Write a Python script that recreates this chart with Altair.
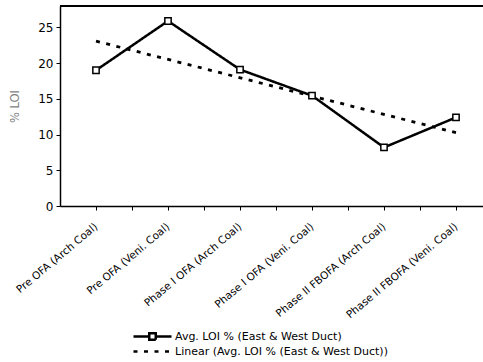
import json
import altair as alt
import pandas as pd

categories = [
    "Pre OFA (Arch Coal)",
    "Pre OFA (Veni. Coal)",
    "Phase I OFA (Arch Coal)",
    "Phase I OFA (Veni. Coal)",
    "Phase II FBOFA (Arch Coal)",
    "Phase II FBOFA (Veni. Coal)",
]
loi_values = [19.0, 25.9, 19.1, 15.45, 8.2, 12.4]
y_ticks = [0, 5, 10, 15, 20, 25]
y_max = 28

S1 = "Avg. LOI % (East & West Duct)"
S2 = "Linear (Avg. LOI % (East & West Duct))"
series_names = [S1, S2]

df = pd.DataFrame({
    "idx": list(range(1, len(categories) + 1)),
    "name": categories,
    "value": loi_values,
    "series": [S1] * len(categories),
})
legend_df = pd.DataFrame({"series": series_names, "idx": [1, 1], "value": [loi_values[0]] * 2})

FONT = "DejaVu Sans"
names_js = json.dumps(categories)

x_axis = alt.Axis(
    values=[1, 1.5, 2, 2.5, 3, 3.5, 4, 4.5, 5, 5.5, 6],
    labelExpr=f"datum.value % 1 == 0 ? {names_js}[datum.value - 1] : ''",
    labelAngle=-40,
    labelAlign="right",
    labelBaseline="middle",
    labelPadding=15,
    labelOverlap=False,
    labelFlush=False,
    labelBound=False,
    labelFont=FONT,
    labelFontSize=10.5,
    labelColor="black",
    tickSize=4,
    tickColor="black",
    tickWidth=1,
    domainColor="black",
    domainWidth=1.5,
    grid=False,
    title=None,
)
x_scale = alt.Scale(domain=[0.5, 6.375], nice=False, zero=False)
x_enc = alt.X("idx:Q", scale=x_scale, axis=x_axis)

y_axis = alt.Axis(
    values=y_ticks,
    tickSize=4,
    tickColor="black",
    tickWidth=1,
    domainColor="black",
    domainWidth=1.5,
    labelFont=FONT,
    labelFontSize=12,
    labelColor="black",
    labelPadding=3,
    labelOverlap=False,
    labelFlush=False,
    grid=False,
    title="% LOI",
    titleFont=FONT,
    titleFontSize=11.5,
    titleFontWeight="normal",
    titleColor="#7f7f7f",
    titlePadding=17,
)
y_scale = alt.Scale(domain=[0, y_max], nice=False)
y_enc = alt.Y("value:Q", scale=y_scale, axis=y_axis)

# legend symbols: unit = sqrt(symbolSize)/2 = 5 px
sq = 0.65
cx = -2.8
path_main = f"M-6.6,0H{cx - sq}M{cx + sq},0H1M{cx - sq},{-sq}H{cx + sq}V{sq}H{cx - sq}Z"
path_trend = "M-6.6,0H1"

legend_cfg = alt.Legend(
    title=None,
    orient="none",
    legendX=100,
    legendY=324,
    direction="vertical",
    padding=0,
    symbolSize=100,
    symbolStrokeWidth=2.5,
    symbolStrokeColor="black",
    symbolOpacity=1,
    labelFont=FONT,
    labelFontSize=11,
    labelColor="black",
    labelOffset=2,
    labelLimit=400,
    rowPadding=0,
)

dash_scale = alt.Scale(domain=series_names, range=[[1, 0], [4, 6.5]])

line = alt.Chart(df).mark_line(color="black", strokeWidth=2.5).encode(
    x=x_enc, y=y_enc, strokeDash=alt.StrokeDash("series:N", scale=dash_scale, legend=legend_cfg)
)

trend = (
    alt.Chart(df)
    .transform_regression("idx", "value", method="linear", extent=[1, 6])
    .transform_calculate(series=f"'{S2}'")
    .mark_line(color="black", strokeWidth=2.8)
    .encode(x=x_enc, y=y_enc, strokeDash=alt.StrokeDash("series:N", legend=legend_cfg))
)

points = alt.Chart(df).mark_point(
    shape="square", filled=True, fill="white", stroke="black", strokeWidth=1.5, size=40, opacity=1
).encode(x=x_enc, y=y_enc)

legend_layer = (
    alt.Chart(legend_df)
    .transform_filter("false")
    .mark_point(filled=False, color="black", strokeWidth=2.5, opacity=1)
    .encode(
        x=x_enc,
        y=y_enc,
        shape=alt.Shape(
            "series:N",
            scale=alt.Scale(domain=series_names, range=[path_main, path_trend]),
            legend=legend_cfg,
        ),
        strokeDash=alt.StrokeDash("series:N", legend=legend_cfg),
    )
)

top_border = alt.Chart(df).mark_rule(color="black", strokeWidth=1.5).encode(
    y=alt.YDatum(y_max, scale=y_scale, axis=y_axis)
)

chart = (
    alt.layer(trend, line, points, legend_layer, top_border)
    .properties(
        width=423,
        height=200,
        autosize=alt.AutoSizeParams(type="none"),
        padding={"left": 60, "top": 6, "right": 0, "bottom": 156},
        background="white",
    )
    .configure_view(stroke=None)
    .configure_axis(labelOverlap=False)
)

chart.save("out.html", embed_options={"renderer": "svg", "actions": False})
